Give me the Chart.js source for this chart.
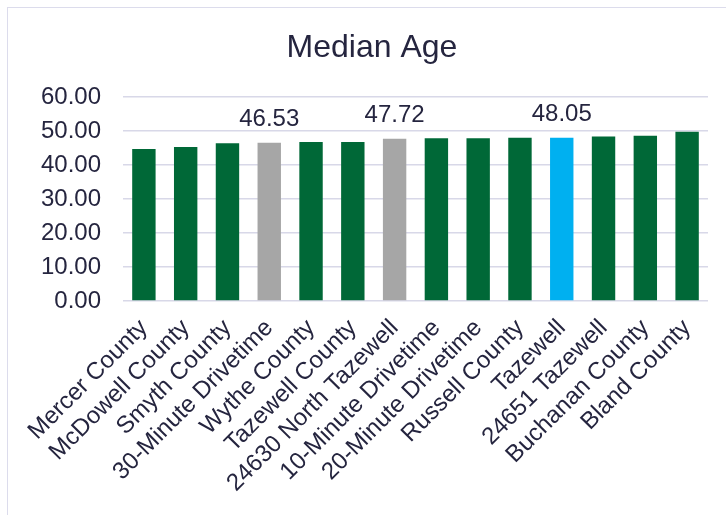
<!DOCTYPE html>
<html>
<head>
<meta charset="utf-8">
<script src="https://cdn.jsdelivr.net/npm/chart.js@4/dist/chart.umd.min.js"></script>
<style>
  html, body { margin: 0; padding: 0; background: #fff; }
  #wrap { position: relative; width: 726px; height: 515px; overflow: hidden; }
  #frame { position: absolute; left: 7px; top: 7px; width: 740px; height: 530px;
           border-top: 1.5px solid #dcdcec; border-left: 1.5px solid #dcdcec; }
  canvas { position: absolute; left: 0; top: 0; }
</style>
</head>
<body>
<div id="wrap">
  <div id="frame"></div>
  <canvas id="ageChart" width="726" height="515"></canvas>
</div>
<script>
const chartTitle = 'Median Age';
const categories = ['Mercer County', 'McDowell County', 'Smyth County', '30-Minute Drivetime',
  'Wythe County', 'Tazewell County', '24630 North Tazewell', '10-Minute Drivetime',
  '20-Minute Drivetime', 'Russell County', 'Tazewell', '24651 Tazewell',
  'Buchanan County', 'Bland County'];
const medianAge = [44.7, 45.3, 46.4, 46.53, 46.8, 46.8, 47.72, 47.9, 47.9, 48.0, 48.05, 48.4, 48.6, 49.8];
const labelledBars = ['30-Minute Drivetime', '24630 North Tazewell', 'Tazewell'];
const yTicks = [0, 10, 20, 30, 40, 50, 60];

const TEXT = '#25253f';
const FONT = "'Liberation Sans', Arial, sans-serif";
const GREEN = '#006837';
const GRAY = '#a6a6a6';
const BLUE = '#00b0f0';

const barColors = categories.map(function(c) {
  if (c === 'Tazewell') return BLUE;
  if (c === '30-Minute Drivetime' || c === '24630 North Tazewell') return GRAY;
  return GREEN;
});

// title centred on the whole frame, plus value labels above a few bars
const extras = {
  id: 'extras',
  afterDatasetsDraw(chart) {
    const ctx = chart.ctx;
    const meta = chart.getDatasetMeta(0);
    ctx.save();
    ctx.fillStyle = TEXT;
    ctx.textAlign = 'center';
    ctx.textBaseline = 'alphabetic';
    ctx.font = '32px ' + FONT;
    ctx.fillText(chartTitle, 372, 57);
    ctx.font = '24px ' + FONT;
    meta.data.forEach(function(bar, i) {
      if (labelledBars.indexOf(categories[i]) < 0) return;
      ctx.fillText(medianAge[i].toFixed(2), bar.x, bar.y - 17);
    });
    ctx.restore();
  }
};

const ctx = document.getElementById('ageChart').getContext('2d');
new Chart(ctx, {
  type: 'bar',
  data: {
    labels: categories,
    datasets: [{
      data: medianAge,
      backgroundColor: barColors,
      categoryPercentage: 1,
      barPercentage: 0.56
    }]
  },
  options: {
    responsive: false,
    animation: false,
    layout: { padding: { left: 0, right: 18, top: 97, bottom: 0 } },
    plugins: {
      legend: { display: false },
      tooltip: { enabled: false },
      title: { display: false }
    },
    scales: {
      x: {
        grid: { display: false },
        border: { display: false },
        ticks: {
          color: TEXT,
          font: { family: FONT, size: 24 },
          minRotation: 45,
          maxRotation: 45,
          autoSkip: false,
          padding: 5
        },
        afterFit: function(scale) { scale.height = 214; }
      },
      y: {
        min: 0,
        max: 60,
        afterBuildTicks: function(scale) {
          scale.ticks = yTicks.map(function(v) { return { value: v }; });
        },
        grid: { color: '#d8d8e8', lineWidth: 1.5, drawTicks: false },
        border: { display: false },
        ticks: {
          color: TEXT,
          font: { family: FONT, size: 24 },
          padding: 22,
          callback: function(v) { return Number(v).toFixed(2); }
        },
        afterFit: function(scale) { scale.width = 123; }
      }
    }
  },
  plugins: [extras]
});
</script>
</body>
</html>
